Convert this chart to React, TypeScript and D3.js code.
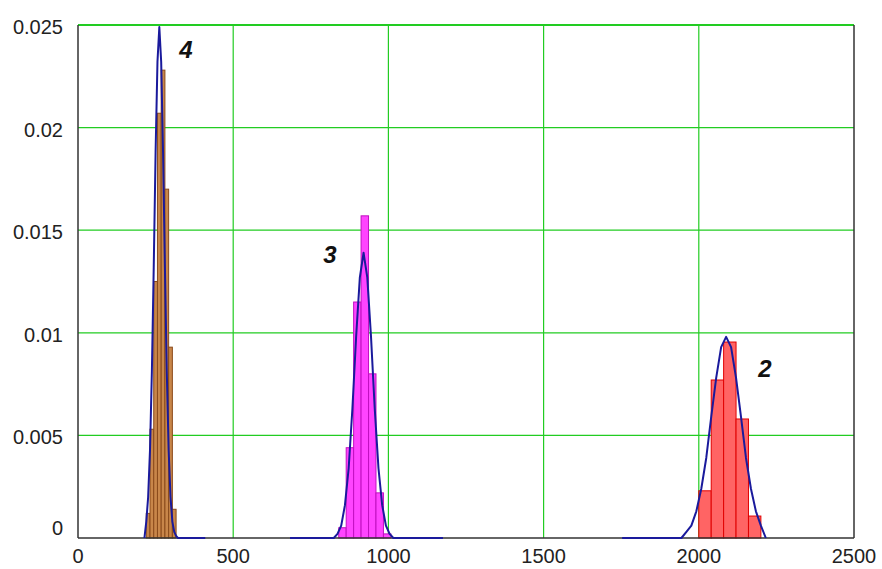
import React from "react";
import * as d3 from "d3";

// ---- data ----
const xTicks = [0, 500, 1000, 1500, 2000, 2500];
const yTicks = [0, 0.005, 0.01, 0.015, 0.02, 0.025];
const yTickLabels = ["0", "0.005", "0.01", "0.015", "0.02", "0.025"];

// histogram "4"
const hist4Start = 220;
const hist4Width = 12;
const hist4Values = [0.0012, 0.0053, 0.0125, 0.0207, 0.0228, 0.017, 0.0093, 0.0014];
// histogram "3"
const hist3Start = 840;
const hist3Width = 24;
const hist3Values = [0.0005, 0.0044, 0.0115, 0.0157, 0.008, 0.0022, 0.0002];
// histogram "2"
const hist2Start = 2000;
const hist2Width = 40;
const hist2Values = [0.0023, 0.0077, 0.00955, 0.0058, 0.00107];

// fitted curves
const curve4X = [214, 220, 226, 232, 238, 244, 250, 256, 262, 268, 274, 280, 286, 292, 298, 304, 310, 316, 322, 410];
const curve4Y = [0, 0.0008, 0.002, 0.0043, 0.0081, 0.0132, 0.0188, 0.0232, 0.0249, 0.0232, 0.0188, 0.0132, 0.0081, 0.0043, 0.002, 0.0008, 0.0003, 0.0001, 0, 0];
const curve3X = [683, 824, 836, 848, 860, 872, 884, 896, 908, 920, 932, 944, 956, 968, 980, 992, 1004, 1016, 1176];
const curve3Y = [0, 0, 0.0002, 0.0006, 0.0016, 0.0034, 0.0063, 0.0098, 0.0127, 0.0139, 0.0127, 0.0098, 0.0063, 0.0034, 0.0016, 0.0006, 0.0002, 0, 0];
const curve2X = [1753, 1944, 1960, 1976, 1992, 2008, 2024, 2040, 2056, 2072, 2088, 2104, 2120, 2136, 2152, 2168, 2184, 2200, 2216];
const curve2Y = [0, 0, 0.0003, 0.0006, 0.0013, 0.0024, 0.0039, 0.0059, 0.0078, 0.0093, 0.0098, 0.0093, 0.0078, 0.0059, 0.0039, 0.0024, 0.0013, 0.0006, 0];

const labels = ["4", "3", "2"];
const labelX = [348, 812, 2213];
const labelY = [0.0234, 0.0134, 0.00785];

export default function App() {
  const W = 882, H = 569;
  const x = d3.scaleLinear().domain([0, 2500]).range([78, 854]);
  const y = d3.scaleLinear().domain([0, 0.025]).range([538, 25]);
  const line = d3.line<[number, number]>().x((d) => x(d[0])).y((d) => y(d[1]));

  const hists = [
    { start: hist4Start, width: hist4Width, values: hist4Values, fill: "#c8864a", stroke: "#8a4a1a" },
    { start: hist3Start, width: hist3Width, values: hist3Values, fill: "#ff44ff", stroke: "#c010c0" },
    { start: hist2Start, width: hist2Width, values: hist2Values, fill: "#ff6464", stroke: "#e00000" },
  ];
  const curves = [
    curve4X.map((v, i) => [v, curve4Y[i]] as [number, number]),
    curve3X.map((v, i) => [v, curve3Y[i]] as [number, number]),
    curve2X.map((v, i) => [v, curve2Y[i]] as [number, number]),
  ];
  const font = "'Liberation Sans', Arial, sans-serif";

  return (
    <svg width={W} height={H} style={{ position: "absolute", left: 0, top: 0, background: "#fff" }}>
      <rect x={0} y={0} width={W} height={H} fill="#fff" />
      {/* grid */}
      {xTicks.slice(1, -1).map((t) => (
        <line key={"gx" + t} x1={x(t)} x2={x(t)} y1={y(0)} y2={y(0.025)} stroke="#22cc22" strokeWidth={1.2} />
      ))}
      {yTicks.slice(1).map((t) => (
        <line key={"gy" + t} x1={x(0)} x2={x(2500)} y1={y(t)} y2={y(t)} stroke="#22cc22" strokeWidth={t === 0.025 ? 2 : 1.2} />
      ))}
      {/* histograms */}
      {hists.map((h, hi) =>
        h.values.map((v, i) => {
          const x0 = x(h.start + i * h.width);
          const x1 = x(h.start + (i + 1) * h.width);
          return (
            <rect key={hi + "-" + i} x={x0} y={y(v)} width={x1 - x0} height={y(0) - y(v)} fill={h.fill} stroke={h.stroke} strokeWidth={1} />
          );
        })
      )}
      {/* axes frame */}
      <line x1={x(0)} x2={x(0)} y1={y(0.025)} y2={y(0)} stroke="#333" strokeWidth={1.5} />
      <line x1={x(2500)} x2={x(2500)} y1={y(0.025)} y2={y(0)} stroke="#333" strokeWidth={1.5} />
      <line x1={x(0)} x2={x(2500)} y1={y(0)} y2={y(0)} stroke="#333" strokeWidth={1.5} />
      {/* curves */}
      {curves.map((c, i) => (
        <path key={"c" + i} d={line(c) || ""} fill="none" stroke="#1a1a9c" strokeWidth={2} strokeLinejoin="round" />
      ))}
      {/* tick labels */}
      {xTicks.map((t) => (
        <text key={"xt" + t} x={x(t)} y={563} textAnchor="middle" fontFamily={font} fontSize={20} fill="#222">
          {t}
        </text>
      ))}
      {yTicks.map((t, i) => (
        <text key={"yt" + t} x={63} y={t === 0 ? y(t) - 3 : y(t) + 9} textAnchor="end" fontFamily={font} fontSize={20} fill="#222">
          {yTickLabels[i]}
        </text>
      ))}
      {/* curve labels */}
      {labels.map((l, i) => (
        <text key={"l" + l} x={x(labelX[i])} y={y(labelY[i])} textAnchor="middle" fontFamily={font} fontSize={24} fontWeight="bold" fontStyle="italic" fill="#111">
          {l}
        </text>
      ))}
    </svg>
  );
}
